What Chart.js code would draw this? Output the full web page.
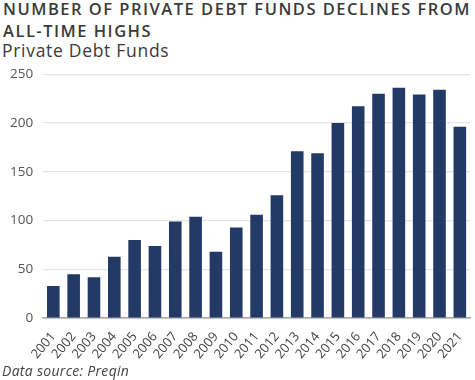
<!DOCTYPE html>
<html>
<head>
<meta charset="utf-8">
<script src="https://cdn.jsdelivr.net/npm/chart.js@4"></script>
<style>
  html, body { margin: 0; padding: 0; background: #fff; width: 475px; height: 380px; overflow: hidden; font-family: "Open Sans", sans-serif; }
  #title { position: absolute; left: 3px; top: -2px; font-size: 16.5px; font-weight: 600; letter-spacing: 1.5px; color: #3a3a3a; line-height: 22px; white-space: nowrap; }
  #subtitle { position: absolute; left: 2px; top: 38px; font-size: 17.5px; color: #3a3a3a; letter-spacing: 0.7px; white-space: nowrap; }
  #footer { position: absolute; left: 2px; top: 361px; font-size: 14px; font-style: italic; color: #444; letter-spacing: 0.3px; }
  #wrap { position: absolute; left: 0; top: 56px; width: 475px; height: 309px; }
</style>
</head>
<body>
<div id="title">NUMBER OF PRIVATE DEBT FUNDS DECLINES FROM<br>ALL-TIME HIGHS</div>
<div id="subtitle">Private Debt Funds</div>
<div id="wrap"><canvas id="c"></canvas></div>
<div id="footer">Data source: Preqin</div>
<script>
const years = ["2001","2002","2003","2004","2005","2006","2007","2008","2009","2010","2011","2012","2013","2014","2015","2016","2017","2018","2019","2020","2021"];
const funds = [33, 45, 42, 63, 80, 74, 99, 104, 68, 93, 106, 126, 171, 169, 200, 217, 230, 236, 229, 234, 196];
const yTicks = [0, 50, 100, 150, 200, 250];

new Chart(document.getElementById('c'), {
  type: 'bar',
  data: {
    labels: years,
    datasets: [{
      label: 'Private Debt Funds',
      data: funds,
      backgroundColor: '#243a66',
      borderWidth: 0,
      categoryPercentage: 1.0,
      barPercentage: 0.62
    }]
  },
  options: {
    responsive: true,
    maintainAspectRatio: false,
    animation: false,
    layout: { padding: { top: 8, right: 5, left: 0, bottom: 0 } },
    plugins: { legend: { display: false }, tooltip: { enabled: false } },
    scales: {
      x: {
        grid: { display: false },
        border: { color: '#a8a8a8', width: 1.5 },
        ticks: { color: '#444', font: { family: 'Open Sans', size: 13 }, autoSkip: false, minRotation: 50, maxRotation: 50, padding: 3 }
      },
      y: {
        min: 0, max: 250,
        afterBuildTicks: (axis) => { axis.ticks = yTicks.map(v => ({ value: v })); },
        grid: { color: '#e4e4e4', lineWidth: 1.2, drawTicks: false },
        border: { display: false },
        ticks: { color: '#555', font: { family: 'Open Sans', size: 13.5 }, padding: 10 }
      }
    }
  }
});
</script>
</body>
</html>
